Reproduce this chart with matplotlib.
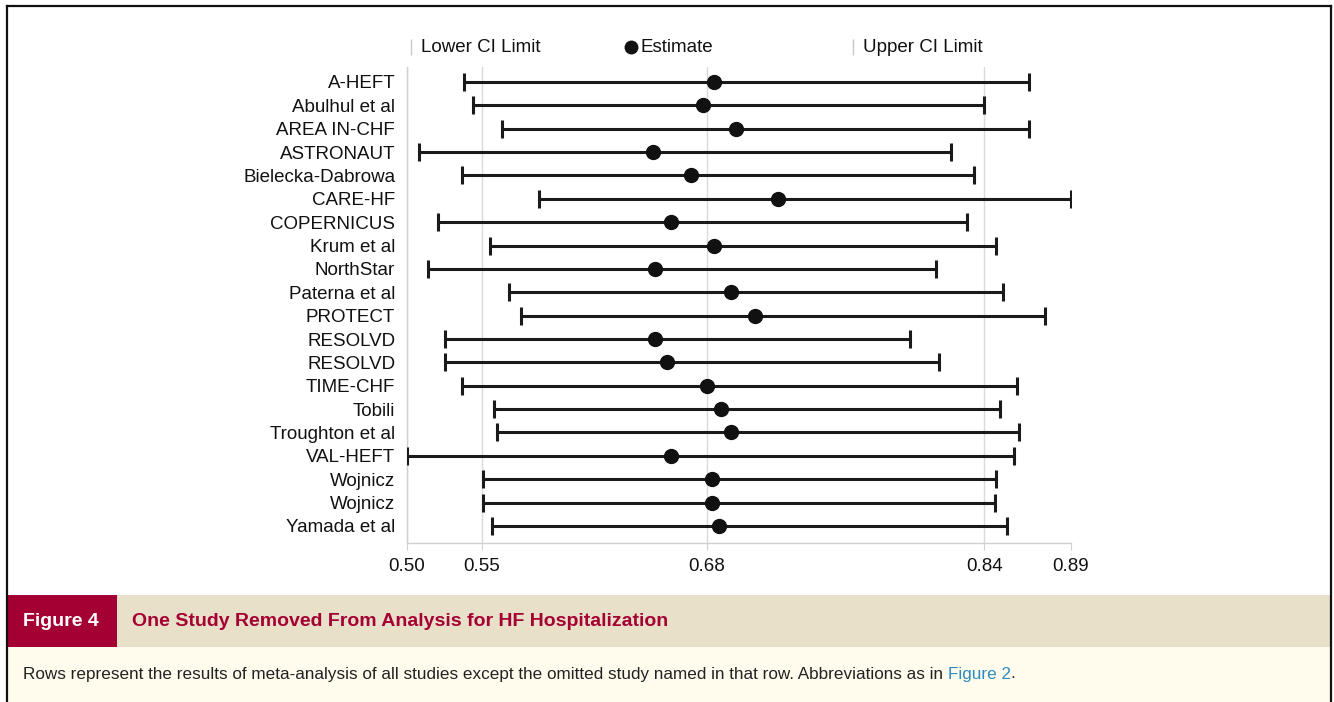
import matplotlib.pyplot as plt
from matplotlib.lines import Line2D
from matplotlib.patches import Rectangle

# Omitted study in each row
studies = ["A-HEFT", "Abulhul et al", "AREA IN-CHF", "ASTRONAUT", "Bielecka-Dabrowa",
           "CARE-HF", "COPERNICUS", "Krum et al", "NorthStar", "Paterna et al",
           "PROTECT", "RESOLVD", "RESOLVD", "TIME-CHF", "Tobili",
           "Troughton et al", "VAL-HEFT", "Wojnicz", "Wojnicz", "Yamada et al"]
lower = [0.540, 0.545, 0.562, 0.514, 0.539, 0.583, 0.525, 0.555, 0.519, 0.566,
         0.573, 0.529, 0.529, 0.539, 0.557, 0.559, 0.507, 0.551, 0.551, 0.556]
estimate = [0.684, 0.678, 0.697, 0.649, 0.671, 0.721, 0.659, 0.684, 0.650, 0.694,
            0.708, 0.650, 0.657, 0.680, 0.688, 0.694, 0.659, 0.683, 0.683, 0.687]
upper = [0.866, 0.840, 0.866, 0.821, 0.834, 0.890, 0.830, 0.847, 0.812, 0.851,
         0.875, 0.797, 0.814, 0.859, 0.849, 0.860, 0.857, 0.847, 0.846, 0.853]

tick_values = [0.507, 0.55, 0.68, 0.84, 0.89]
tick_labels = ["0.50", "0.55", "0.68", "0.84", "0.89"]

W, H = 1334, 702
fig = plt.figure(figsize=(W / 100, H / 100), dpi=100)
fig.patch.set_facecolor("white")

ax = fig.add_axes([407 / W, 1 - 543 / H, (1071 - 407) / W, (543 - 67) / H])
rows = list(range(len(studies)))
err = [[e - l for e, l in zip(estimate, lower)], [u - e for u, e in zip(upper, estimate)]]
ax.errorbar(estimate, rows, xerr=err, fmt="o", color="#111111", ecolor="#1a1a1a",
            elinewidth=2.2, capsize=6.5, capthick=2.2, markersize=10, zorder=3)

ax.set_xlim(0.507, 0.89)
ax.set_ylim(19.73, -0.64)
ax.set_xticks(tick_values)
ax.set_xticklabels(tick_labels, fontsize=13.5, family="Liberation Sans", color="#111111")
ax.set_yticks(rows)
ax.set_yticklabels(studies, fontsize=13.5, family="Liberation Sans", color="#111111")
ax.tick_params(axis="y", length=0, pad=8.5)
ax.tick_params(axis="x", length=5, color="#d0d0d0", pad=6)
ax.grid(axis="x", color="#dadada", lw=1, zorder=0)
ax.get_xgridlines()[-1].set_visible(False)
for s in ["top", "right"]:
    ax.spines[s].set_visible(False)
for s in ["left", "bottom"]:
    ax.spines[s].set_color("#d0d0d0")
    ax.spines[s].set_linewidth(1)

# legend along the top
ly = 1 - 47 / H
lfont = dict(fontsize=13.5, family="Liberation Sans", va="center", color="#111111")
fig.add_artist(Line2D([411 / W], [ly], marker="|", color="#c8c8c8", markersize=12,
                      markeredgewidth=1, transform=fig.transFigure))
fig.text(421 / W, ly, "Lower CI Limit", **lfont)
fig.add_artist(Line2D([631 / W], [ly], marker="o", color="#111111", markersize=9,
                      transform=fig.transFigure))
fig.text(641 / W, ly, "Estimate", **lfont)
fig.add_artist(Line2D([853 / W], [ly], marker="|", color="#c8c8c8", markersize=12,
                      markeredgewidth=1, transform=fig.transFigure))
fig.text(863 / W, ly, "Upper CI Limit", **lfont)

# caption bands
fig.add_artist(Rectangle((7 / W, 0), (1330 - 7) / W, (H - 647) / H,
                         facecolor="#fffcee", edgecolor="none", transform=fig.transFigure))
fig.add_artist(Rectangle((7 / W, (H - 647) / H), (1330 - 7) / W, 52 / H,
                         facecolor="#e8e0c9", edgecolor="none", transform=fig.transFigure))
fig.add_artist(Rectangle((7 / W, (H - 647) / H), 110 / W, 52 / H,
                         facecolor="#a50034", edgecolor="none", transform=fig.transFigure))
fig.text(23 / W, 1 - 621 / H, "Figure 4", fontsize=14, weight="bold",
         family="Liberation Sans", color="white", va="center")
fig.text(132 / W, 1 - 621 / H, "One Study Removed From Analysis for HF Hospitalization",
         fontsize=14, weight="bold", family="Liberation Sans", color="#a50034",
         va="center")
cfont = dict(fontsize=12.3, family="Liberation Sans", va="center")
cap = fig.text(23 / W, 1 - 674 / H,
               "Rows represent the results of meta-analysis of all studies except the omitted "
               "study named in that row. Abbreviations as in ",
               color="#222222", **cfont)
fig.canvas.draw()
bb = cap.get_window_extent()
link = fig.text(bb.x1 / W, 1 - 674 / H, "Figure 2", color="#2a8ac0", **cfont)
fig.canvas.draw()
bb2 = link.get_window_extent()
fig.text(bb2.x1 / W, 1 - 674 / H, ".", color="#222222", **cfont)

# outer frame (open at bottom)
for xs, ys in [([6.5, 6.5], [0, H - 5.5]), ([6.5, 1330.5], [H - 5.5, H - 5.5]),
               ([1330.5, 1330.5], [H - 5.5, 0])]:
    fig.add_artist(Line2D([x / W for x in xs], [y / H for y in ys], color="#111111",
                          lw=1.6, transform=fig.transFigure))

fig.savefig("out.png", dpi=100)
